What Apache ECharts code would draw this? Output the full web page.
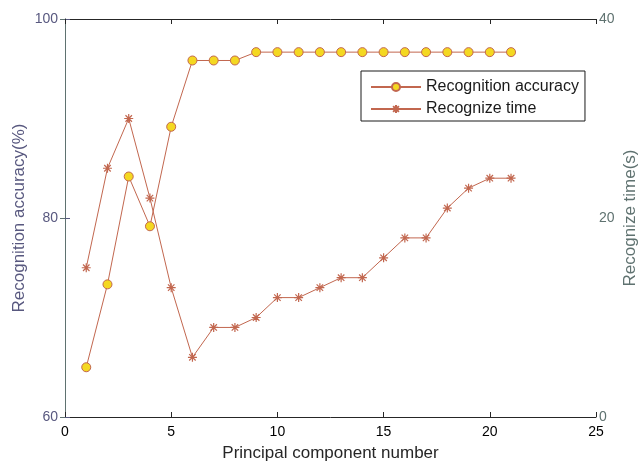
<!DOCTYPE html>
<html>
<head>
<meta charset="utf-8">
<script src="https://cdn.jsdelivr.net/npm/echarts@6/dist/echarts.min.js"></script>
<style>
  html, body { margin: 0; padding: 0; background: #fff; width: 100%; height: 100%; overflow: hidden; }
  #chart { width: 639px; height: 462px; }
</style>
</head>
<body>
<div id="chart"></div>
<script>
// Number of principal components used
const components = [1, 2, 3, 4, 5, 6, 7, 8, 9, 10, 11, 12, 13, 14, 15, 16, 17, 18, 19, 20, 21];
// Recognition accuracy (%)
const accuracy = [65.00, 73.33, 84.17, 79.17, 89.17, 95.83, 95.83, 95.83, 96.67, 96.67, 96.67,
                  96.67, 96.67, 96.67, 96.67, 96.67, 96.67, 96.67, 96.67, 96.67, 96.67];
// Recognition time (s)
const recTime = [15, 25, 30, 22, 13, 6, 9, 9, 10, 12, 12, 13, 14, 14, 16, 18, 18, 21, 23, 24, 24];

const xTicks = [0, 25, 5];      // min, max, interval
const accTicks = [60, 100, 20];
const timeTicks = [0, 40, 20];

const lineColor = '#c2674f';
const leftColor = '#58587f';
const rightColor = '#5f7270';
const boxColor = '#262626';
const font = '"Liberation Sans", Arial, Helvetica, sans-serif';

const asterisk = 'path://M0,-5L0,5M-5,0L5,0M-3.6,-3.6L3.6,3.6M-3.6,3.6L3.6,-3.6';

const chart = echarts.init(document.getElementById('chart'), null, { renderer: 'canvas', width: 639, height: 462 });

chart.setOption({
  animation: false,
  backgroundColor: '#ffffff',
  grid: { left: 65, right: 43, top: 19, bottom: 45, containLabel: false, outerBoundsMode: 'none' },
  legend: {
    left: 361, top: 71,
    orient: 'vertical',
    backgroundColor: '#ffffff',
    borderColor: '#1a1a1a', borderWidth: 1, borderRadius: 0,
    padding: [8, 6, 4, 9],
    itemWidth: 50, itemHeight: 10, itemGap: 6,
    textStyle: { fontFamily: font, fontSize: 16, color: '#1a1a1a' },
    data: ['Recognition accuracy', 'Recognize time']
  },
  xAxis: [{
    type: 'value', position: 'bottom',
    min: xTicks[0], max: xTicks[1], interval: xTicks[2],
    name: 'Principal component number', nameLocation: 'middle', nameGap: 28, nameMoveOverlap: false,
    nameTextStyle: { fontFamily: font, fontSize: 17, color: boxColor },
    axisLine: { lineStyle: { color: boxColor, width: 1 } },
    axisTick: { inside: true, length: 5, lineStyle: { color: boxColor } },
    axisLabel: { fontFamily: font, fontSize: 14, color: '#000', margin: 8 },
    splitLine: { show: false }
  }, {
    type: 'value', position: 'top',
    min: xTicks[0], max: xTicks[1], interval: xTicks[2],
    axisLine: { lineStyle: { color: boxColor, width: 1 } },
    axisTick: { inside: true, length: 5, lineStyle: { color: boxColor } },
    axisLabel: { show: false },
    splitLine: { show: false }
  }],
  yAxis: [{
    type: 'value', position: 'left',
    min: accTicks[0], max: accTicks[1], interval: accTicks[2],
    name: 'Recognition accuracy(%)', nameLocation: 'middle', nameGap: 37, nameRotate: 90, nameMoveOverlap: false,
    nameTextStyle: { fontFamily: font, fontSize: 17, color: leftColor },
    axisLine: { show: true, lineStyle: { color: leftColor, width: 1 } },
    axisTick: { show: true, inside: true, length: 5, lineStyle: { color: leftColor } },
    axisLabel: { fontFamily: font, fontSize: 14, color: leftColor, margin: 7 },
    splitLine: { show: false }
  }, {
    type: 'value', position: 'right',
    min: timeTicks[0], max: timeTicks[1], interval: timeTicks[2],
    name: 'Recognize time(s)', nameLocation: 'middle', nameGap: 26, nameRotate: 90, nameMoveOverlap: false,
    nameTextStyle: { fontFamily: font, fontSize: 17, color: rightColor },
    axisLine: { show: true, lineStyle: { color: rightColor, width: 1 } },
    axisTick: { show: true, inside: true, length: 5, lineStyle: { color: rightColor } },
    axisLabel: { fontFamily: font, fontSize: 14, color: rightColor, margin: 3 },
    splitLine: { show: false }
  }],
  series: [{
    name: 'Recognition accuracy',
    type: 'line',
    xAxisIndex: 0, yAxisIndex: 0,
    data: components.map((c, i) => [c, accuracy[i]]),
    symbol: 'circle', symbolSize: 9,
    lineStyle: { color: lineColor, width: 1 },
    itemStyle: { color: '#f4d821', borderColor: lineColor, borderWidth: 1 }
  }, {
    name: 'Recognize time',
    type: 'line',
    xAxisIndex: 0, yAxisIndex: 1,
    data: components.map((c, i) => [c, recTime[i]]),
    symbol: asterisk, symbolSize: 9,
    lineStyle: { color: lineColor, width: 1 },
    itemStyle: { color: 'rgba(0,0,0,0)', borderColor: lineColor, borderWidth: 1.2 }
  }]
});
</script>
</body>
</html>
